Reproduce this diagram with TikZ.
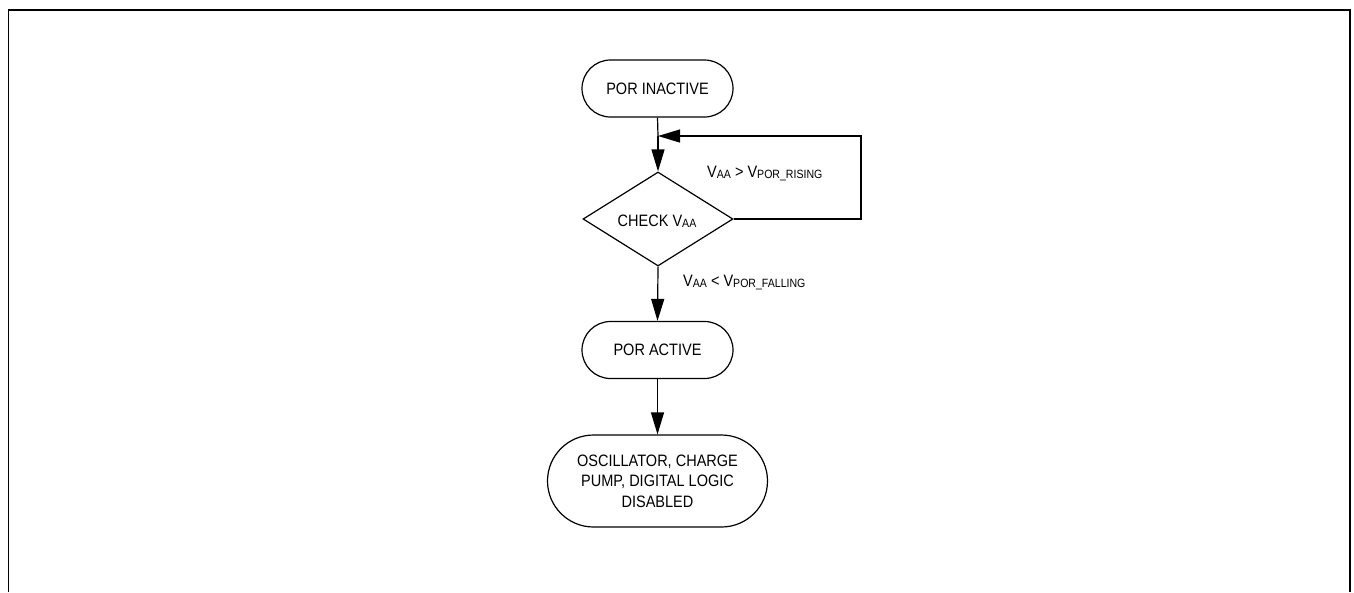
\documentclass[tikz,border=0pt]{standalone}
\usepackage{fontspec}
\setmainfont{Liberation Sans}[FakeStretch=0.88]
\usetikzlibrary{arrows.meta,shapes.geometric}
\newcommand\lsub[1]{\raisebox{-1.5pt}{\fontsize{12}{12}\selectfont #1}}
\tikzset{
  every node/.style={font=\fontsize{16.5}{20.5}\selectfont},
  stadium/.style={draw,line width=1.2pt,rectangle,inner sep=0pt,align=center},
  decision/.style={draw,line width=1.2pt,diamond,inner sep=0pt,minimum width=150pt,minimum height=94pt,aspect=1.6},
  flow/.style={line width=1.2pt,-{Triangle[length=22pt,width=13pt]}},
  lbl/.style={anchor=base west,inner sep=0pt}
}
\begin{document}
\begin{tikzpicture}[x=1pt,y=-1pt]
\useasboundingbox (0,0) rectangle (1354,592);
\draw[line width=1.3pt] (8.5,592) -- (8.5,10) -- (1350,10) -- (1350,592);
\node[stadium,minimum width=151pt,minimum height=57pt,rounded corners=28.5pt] (inact) at (657.5,88.5) {POR INACTIVE};
\node[draw,line width=1.2pt,diamond,inner sep=0pt,minimum width=150pt,minimum height=94pt] (chk) at (658,219) {};
\node[inner sep=0pt,anchor=base] (chktxt) at (657,226) {CHECK V\lsub{AA}};
\node[stadium,minimum width=151pt,minimum height=57pt,rounded corners=28.5pt] (act) at (657.5,350) {POR ACTIVE};
\node[stadium,minimum width=220pt,minimum height=92pt,rounded corners=46pt] (dis) at (657.5,481) {OSCILLATOR, CHARGE\\PUMP, DIGITAL LOGIC\\DISABLED};
\coordinate (m) at (658,136);
\coordinate (r1) at (861,219);
\coordinate (r2) at (861,136);
\draw[line width=1.2pt] (inact.south) -- (m);
\draw[flow] (m) -- (chk.north);
\draw[flow] (chk.east) -- (r1) -- (r2) -- (m);
\draw[flow] (chk.south) -- (act.north);
\draw[flow] (act.south) -- (dis.north);
\node[lbl] (rise) at (707,177) {V\lsub{AA} > V\lsub{POR\_RISING}};
\node[lbl] (fall) at (683,286) {V\lsub{AA} < V\lsub{POR\_FALLING}};
\end{tikzpicture}
\end{document}
